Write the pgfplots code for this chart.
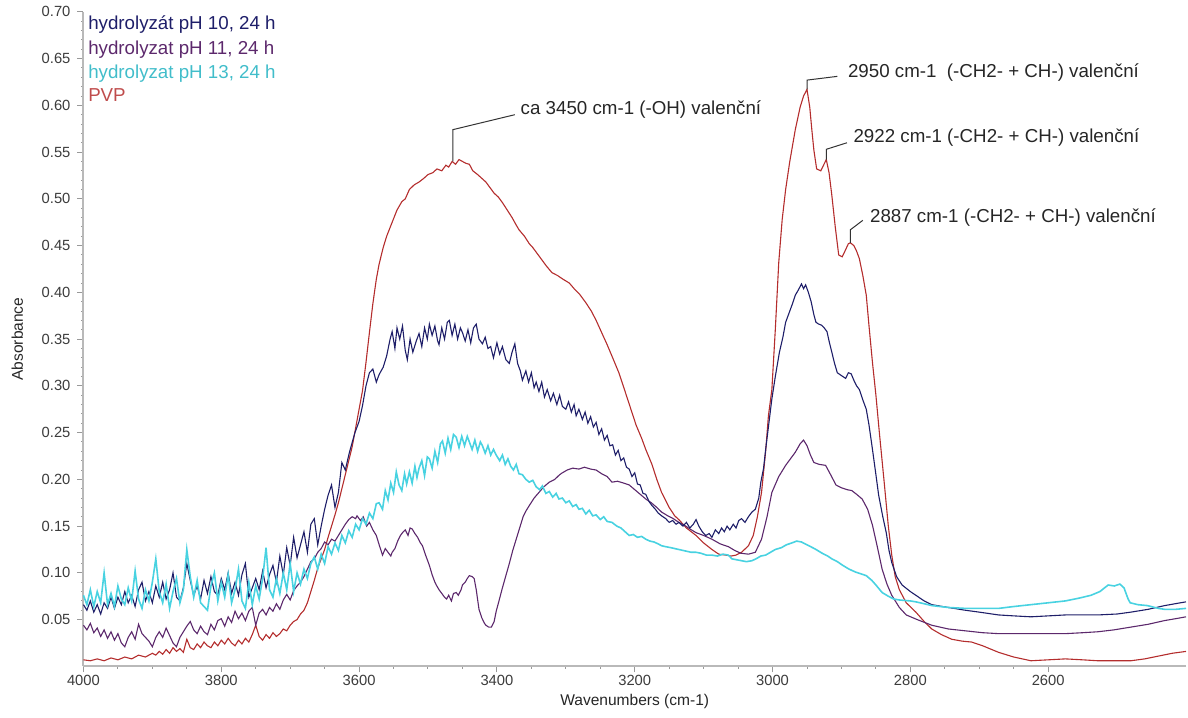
\documentclass[border=0pt]{standalone}
\usepackage{pgfplots}
\pgfplotsset{compat=1.18}
\usepackage{fontspec}
\setmainfont{Liberation Sans}

\definecolor{phten}{RGB}{30,30,105}
\definecolor{pheleven}{RGB}{92,40,108}
\definecolor{phthirteen}{RGB}{72,210,225}
\definecolor{pvp}{RGB}{180,45,45}
\definecolor{axisgray}{RGB}{185,185,185}
\definecolor{ticktext}{RGB}{60,60,60}

% hydrolyzát pH 10, 24 h
\pgfplotstableread{
x y
4000 0.066
3995 0.060
3990 0.070
3985 0.058
3980 0.066
3975 0.056
3970 0.068
3965 0.062
3960 0.074
3955 0.062
3950 0.074
3945 0.066
3940 0.080
3935 0.068
3930 0.076
3925 0.064
3920 0.082
3915 0.090
3910 0.070
3905 0.080
3900 0.068
3895 0.086
3890 0.074
3885 0.090
3880 0.072
3875 0.082
3870 0.100
3865 0.074
3860 0.070
3855 0.084
3850 0.110
3845 0.092
3840 0.076
3835 0.086
3830 0.072
3825 0.092
3820 0.078
3815 0.096
3810 0.080
3805 0.076
3800 0.094
3795 0.082
3790 0.100
3785 0.078
3780 0.090
3775 0.076
3770 0.098
3765 0.110
3760 0.074
3755 0.084
3750 0.094
3745 0.082
3740 0.102
3735 0.084
3730 0.098
3725 0.108
3720 0.090
3715 0.118
3710 0.098
3705 0.127
3700 0.108
3695 0.138
3690 0.116
3685 0.130
3680 0.144
3675 0.122
3670 0.152
3665 0.158
3660 0.130
3655 0.150
3650 0.168
3645 0.183
3640 0.194
3635 0.170
3630 0.186
3625 0.218
3620 0.210
3614 0.229
3606 0.250
3600 0.262
3595 0.279
3590 0.300
3585 0.314
3580 0.318
3575 0.304
3571 0.312
3565 0.320
3560 0.332
3555 0.350
3552 0.358
3548 0.340
3545 0.362
3541 0.350
3537 0.364
3533 0.338
3530 0.328
3526 0.350
3522 0.336
3517 0.348
3513 0.356
3509 0.342
3505 0.362
3501 0.350
3498 0.366
3494 0.354
3490 0.364
3486 0.348
3484 0.344
3480 0.362
3476 0.350
3472 0.368
3469 0.370
3465 0.354
3461 0.366
3457 0.350
3453 0.362
3450 0.357
3446 0.348
3442 0.360
3438 0.346
3434 0.362
3430 0.366
3426 0.350
3421 0.345
3417 0.352
3413 0.340
3409 0.342
3405 0.330
3400 0.346
3396 0.334
3392 0.342
3387 0.328
3382 0.324
3378 0.336
3374 0.345
3370 0.324
3366 0.316
3363 0.306
3358 0.316
3354 0.304
3350 0.314
3346 0.298
3343 0.304
3339 0.294
3335 0.304
3331 0.288
3327 0.296
3322 0.284
3318 0.292
3313 0.280
3309 0.290
3305 0.278
3300 0.275
3296 0.283
3292 0.272
3288 0.280
3285 0.268
3281 0.275
3276 0.264
3272 0.272
3268 0.260
3264 0.267
3260 0.256
3256 0.261
3252 0.248
3248 0.254
3244 0.242
3240 0.247
3236 0.236
3232 0.237
3228 0.226
3224 0.231
3220 0.220
3216 0.223
3212 0.213
3208 0.211
3204 0.203
3200 0.207
3196 0.195
3192 0.194
3188 0.185
3184 0.184
3179 0.176
3175 0.172
3170 0.168
3166 0.164
3161 0.161
3155 0.158
3150 0.154
3145 0.156
3140 0.152
3136 0.154
3130 0.150
3125 0.154
3120 0.148
3115 0.152
3111 0.157
3107 0.150
3102 0.144
3097 0.140
3092 0.142
3088 0.138
3083 0.146
3078 0.142
3074 0.148
3070 0.144
3066 0.150
3062 0.146
3057 0.152
3053 0.148
3049 0.156
3045 0.158
3040 0.154
3035 0.160
3030 0.165
3025 0.168
3020 0.180
3017 0.197
3013 0.212
3010 0.232
3005 0.262
3001 0.286
2996 0.310
2990 0.336
2985 0.352
2981 0.368
2976 0.378
2971 0.388
2967 0.397
2963 0.402
2958 0.409
2955 0.404
2952 0.408
2948 0.400
2944 0.390
2940 0.376
2937 0.368
2933 0.366
2929 0.365
2925 0.362
2921 0.358
2918 0.348
2914 0.336
2910 0.324
2906 0.314
2902 0.312
2898 0.310
2894 0.308
2890 0.314
2886 0.313
2882 0.306
2878 0.300
2874 0.296
2869 0.285
2864 0.275
2860 0.258
2855 0.232
2850 0.205
2846 0.183
2840 0.160
2835 0.143
2831 0.124
2827 0.111
2820 0.096
2812 0.087
2800 0.080
2792 0.076
2780 0.070
2769 0.066
2745 0.063
2720 0.060
2700 0.058
2672 0.055
2650 0.054
2625 0.053
2600 0.054
2575 0.055
2550 0.055
2528 0.055
2500 0.056
2480 0.058
2455 0.061
2431 0.065
2408 0.068
2400 0.069
}\phten

% hydrolyzat pH 11, 24 h
\pgfplotstableread{
x y
4000 0.044
3995 0.039
3990 0.046
3985 0.036
3980 0.041
3975 0.032
3970 0.039
3965 0.030
3960 0.037
3955 0.028
3950 0.035
3945 0.025
3940 0.021
3935 0.031
3930 0.037
3925 0.029
3920 0.045
3915 0.035
3910 0.031
3905 0.027
3900 0.021
3895 0.031
3890 0.037
3885 0.031
3880 0.041
3875 0.033
3870 0.025
3865 0.021
3860 0.031
3855 0.037
3850 0.043
3845 0.048
3840 0.039
3835 0.035
3830 0.043
3825 0.037
3820 0.034
3815 0.045
3810 0.039
3805 0.049
3800 0.051
3795 0.043
3790 0.053
3785 0.047
3780 0.059
3775 0.051
3770 0.057
3765 0.049
3760 0.059
3755 0.063
3750 0.044
3745 0.057
3740 0.061
3735 0.055
3730 0.063
3725 0.059
3720 0.067
3715 0.061
3710 0.071
3705 0.077
3700 0.071
3695 0.081
3690 0.086
3685 0.090
3680 0.096
3675 0.104
3670 0.112
3665 0.115
3660 0.122
3655 0.126
3650 0.133
3645 0.130
3640 0.136
3635 0.134
3630 0.140
3625 0.146
3620 0.152
3615 0.157
3610 0.160
3605 0.158
3603 0.161
3598 0.156
3594 0.160
3589 0.150
3585 0.154
3580 0.146
3575 0.140
3570 0.128
3566 0.119
3562 0.126
3558 0.122
3554 0.118
3552 0.122
3548 0.126
3544 0.134
3540 0.140
3537 0.143
3533 0.146
3529 0.140
3526 0.148
3523 0.147
3519 0.142
3515 0.138
3511 0.132
3508 0.129
3504 0.120
3500 0.112
3498 0.108
3494 0.098
3490 0.090
3488 0.087
3484 0.082
3480 0.078
3476 0.074
3473 0.072
3470 0.076
3466 0.070
3463 0.078
3459 0.079
3456 0.076
3452 0.082
3450 0.087
3446 0.090
3443 0.094
3440 0.097
3436 0.096
3433 0.094
3430 0.082
3426 0.061
3422 0.052
3418 0.046
3416 0.044
3412 0.042
3408 0.042
3404 0.048
3401 0.059
3397 0.070
3392 0.084
3387 0.097
3382 0.110
3377 0.124
3372 0.136
3367 0.148
3362 0.160
3358 0.166
3353 0.172
3346 0.180
3339 0.186
3332 0.192
3324 0.197
3316 0.200
3309 0.205
3305 0.207
3298 0.210
3290 0.212
3281 0.211
3273 0.213
3264 0.211
3256 0.210
3248 0.206
3240 0.203
3233 0.197
3225 0.198
3216 0.196
3208 0.194
3200 0.189
3192 0.184
3184 0.179
3176 0.175
3168 0.170
3161 0.165
3152 0.161
3144 0.158
3136 0.154
3128 0.151
3120 0.147
3111 0.143
3100 0.140
3088 0.136
3076 0.131
3064 0.128
3055 0.124
3046 0.121
3035 0.120
3025 0.122
3016 0.136
3008 0.160
3001 0.186
2991 0.203
2981 0.215
2974 0.222
2967 0.229
2960 0.238
2955 0.242
2950 0.236
2945 0.226
2940 0.218
2932 0.216
2923 0.215
2915 0.204
2908 0.194
2900 0.191
2892 0.189
2885 0.188
2878 0.184
2870 0.179
2862 0.168
2855 0.151
2848 0.128
2841 0.104
2834 0.088
2827 0.076
2816 0.063
2806 0.055
2790 0.050
2769 0.044
2745 0.040
2720 0.038
2695 0.036
2672 0.035
2650 0.035
2625 0.035
2600 0.035
2575 0.035
2550 0.036
2528 0.037
2505 0.039
2480 0.042
2455 0.045
2431 0.049
2415 0.051
2400 0.053
}\pheleven

% hydrolyzat pH 13, 24 h
\pgfplotstableread{
x y
4000 0.076
3995 0.066
3990 0.082
3985 0.064
3980 0.080
3975 0.068
3970 0.100
3965 0.066
3960 0.078
3955 0.064
3950 0.086
3945 0.072
3940 0.066
3935 0.084
3930 0.070
3925 0.102
3920 0.072
3915 0.062
3910 0.082
3905 0.070
3900 0.090
3895 0.115
3890 0.080
3885 0.068
3880 0.088
3875 0.062
3870 0.080
3865 0.094
3860 0.068
3855 0.082
3850 0.125
3845 0.096
3840 0.074
3835 0.092
3830 0.068
3825 0.064
3820 0.060
3815 0.086
3810 0.100
3805 0.070
3800 0.090
3795 0.074
3790 0.098
3785 0.068
3780 0.082
3775 0.104
3770 0.070
3765 0.062
3760 0.090
3755 0.066
3750 0.086
3745 0.072
3740 0.094
3735 0.127
3730 0.082
3725 0.074
3720 0.094
3715 0.078
3710 0.100
3705 0.082
3700 0.110
3695 0.080
3690 0.100
3685 0.088
3680 0.104
3675 0.094
3670 0.110
3665 0.117
3660 0.104
3655 0.120
3650 0.110
3645 0.128
3640 0.120
3635 0.132
3630 0.124
3625 0.140
3620 0.132
3615 0.145
3610 0.138
3605 0.152
3600 0.146
3595 0.158
3590 0.152
3585 0.164
3580 0.158
3575 0.174
3571 0.175
3566 0.168
3562 0.188
3558 0.178
3554 0.196
3550 0.186
3546 0.208
3542 0.194
3538 0.188
3534 0.206
3531 0.195
3527 0.208
3523 0.196
3519 0.214
3516 0.202
3513 0.212
3509 0.220
3505 0.204
3501 0.224
3498 0.222
3494 0.212
3490 0.230
3486 0.218
3482 0.238
3479 0.241
3475 0.228
3471 0.244
3467 0.232
3463 0.248
3459 0.245
3455 0.234
3451 0.246
3447 0.236
3443 0.246
3440 0.240
3436 0.232
3432 0.242
3428 0.230
3424 0.240
3421 0.236
3417 0.228
3413 0.236
3409 0.226
3405 0.232
3401 0.226
3396 0.220
3392 0.226
3388 0.216
3384 0.222
3380 0.214
3376 0.210
3372 0.216
3368 0.206
3363 0.205
3358 0.200
3353 0.197
3348 0.199
3343 0.192
3338 0.189
3334 0.193
3329 0.185
3324 0.187
3319 0.181
3314 0.185
3310 0.179
3305 0.180
3300 0.175
3295 0.177
3290 0.171
3285 0.173
3281 0.168
3276 0.169
3271 0.163
3266 0.167
3261 0.161
3256 0.162
3250 0.157
3245 0.160
3240 0.155
3233 0.154
3226 0.150
3220 0.148
3214 0.144
3208 0.140
3202 0.141
3196 0.138
3190 0.139
3184 0.136
3178 0.134
3172 0.133
3166 0.131
3161 0.129
3155 0.128
3148 0.127
3142 0.126
3136 0.125
3130 0.124
3124 0.123
3118 0.122
3111 0.122
3104 0.121
3096 0.119
3088 0.119
3080 0.118
3072 0.120
3064 0.119
3059 0.115
3052 0.114
3045 0.113
3038 0.112
3030 0.113
3024 0.115
3017 0.118
3010 0.119
3003 0.122
2996 0.125
2987 0.127
2980 0.130
2972 0.132
2965 0.134
2958 0.133
2950 0.130
2942 0.127
2937 0.125
2928 0.121
2920 0.118
2914 0.115
2906 0.112
2898 0.108
2889 0.104
2880 0.101
2872 0.099
2864 0.097
2856 0.092
2850 0.087
2841 0.079
2832 0.075
2824 0.072
2816 0.071
2800 0.070
2792 0.069
2780 0.067
2769 0.065
2745 0.063
2720 0.062
2695 0.062
2672 0.062
2650 0.064
2625 0.066
2600 0.068
2575 0.070
2555 0.073
2538 0.076
2525 0.080
2513 0.087
2504 0.086
2496 0.088
2490 0.084
2484 0.072
2481 0.068
2470 0.066
2456 0.065
2440 0.062
2431 0.061
2415 0.061
2400 0.062
}\phthirteen

% PVP
\pgfplotstableread{
x y
4000 0.007
3990 0.006
3980 0.008
3970 0.006
3960 0.009
3950 0.007
3940 0.010
3930 0.008
3920 0.012
3910 0.010
3900 0.014
3895 0.012
3890 0.016
3885 0.013
3880 0.018
3875 0.014
3870 0.020
3865 0.016
3860 0.019
3855 0.015
3850 0.029
3845 0.020
3840 0.018
3835 0.024
3830 0.020
3825 0.026
3820 0.022
3815 0.020
3810 0.026
3805 0.022
3800 0.028
3795 0.024
3790 0.030
3785 0.025
3780 0.022
3775 0.028
3770 0.024
3765 0.030
3760 0.026
3755 0.034
3750 0.044
3745 0.032
3740 0.028
3735 0.034
3730 0.030
3725 0.036
3720 0.032
3715 0.035
3710 0.040
3705 0.038
3700 0.044
3695 0.048
3690 0.050
3685 0.056
3680 0.060
3675 0.068
3670 0.080
3665 0.092
3660 0.105
3655 0.115
3650 0.125
3645 0.138
3640 0.150
3635 0.162
3630 0.175
3625 0.190
3620 0.205
3615 0.220
3610 0.235
3605 0.255
3600 0.275
3595 0.295
3590 0.325
3585 0.357
3580 0.388
3575 0.414
3571 0.430
3565 0.448
3560 0.460
3552 0.475
3545 0.488
3538 0.497
3533 0.500
3527 0.510
3520 0.515
3513 0.518
3506 0.522
3500 0.526
3493 0.528
3487 0.532
3480 0.530
3474 0.536
3470 0.534
3465 0.540
3460 0.537
3455 0.542
3450 0.540
3445 0.538
3440 0.537
3435 0.530
3428 0.526
3422 0.522
3416 0.518
3410 0.512
3404 0.506
3398 0.502
3392 0.496
3385 0.488
3378 0.480
3372 0.472
3368 0.467
3360 0.460
3353 0.452
3348 0.448
3343 0.443
3336 0.436
3328 0.428
3320 0.421
3312 0.418
3304 0.414
3295 0.410
3288 0.404
3280 0.398
3271 0.389
3263 0.380
3256 0.370
3248 0.357
3240 0.344
3232 0.330
3223 0.314
3214 0.294
3206 0.276
3198 0.258
3190 0.244
3184 0.232
3175 0.216
3168 0.200
3161 0.186
3150 0.170
3142 0.161
3136 0.157
3125 0.148
3111 0.140
3100 0.132
3088 0.125
3078 0.120
3068 0.119
3060 0.118
3053 0.119
3045 0.122
3035 0.129
3028 0.140
3022 0.160
3016 0.186
3010 0.230
3006 0.268
3001 0.296
2996 0.360
2991 0.432
2986 0.478
2981 0.510
2975 0.540
2967 0.574
2960 0.598
2955 0.610
2950 0.617
2946 0.598
2943 0.574
2940 0.552
2936 0.532
2930 0.530
2926 0.536
2922 0.542
2918 0.528
2914 0.504
2909 0.470
2904 0.440
2899 0.438
2895 0.444
2890 0.452
2887 0.453
2882 0.450
2878 0.444
2874 0.436
2869 0.418
2864 0.397
2860 0.364
2855 0.325
2850 0.290
2845 0.250
2838 0.197
2832 0.150
2827 0.119
2822 0.096
2816 0.082
2806 0.068
2792 0.058
2780 0.048
2769 0.040
2755 0.034
2740 0.029
2725 0.027
2711 0.026
2695 0.022
2672 0.015
2650 0.010
2625 0.006
2600 0.007
2575 0.008
2550 0.007
2528 0.006
2505 0.006
2480 0.006
2460 0.008
2440 0.011
2420 0.014
2400 0.016
}\pvp

\begin{document}
\begin{tikzpicture}
\begin{axis}[
  scale only axis,
  width=551.25bp, height=327.25bp,
  x dir=reverse,
  xmin=2400, xmax=4000,
  ymin=0, ymax=0.70,
  clip=false,
  axis x line*=bottom,
  axis y line*=left,
  axis line style={draw=axisgray, line width=1bp},
  every tick/.style={draw=gray!80, line width=0.5bp},
  tick align=outside,
  major tick length=3bp,
  minor tick length=1.2bp,
  xtick={2600,2800,3000,3200,3400,3600,3800,4000},
  minor x tick num=3,
  ytick={0.05,0.10,0.15,0.20,0.25,0.30,0.35,0.40,0.45,0.50,0.55,0.60,0.65,0.70},
  minor y tick num=4,
  xticklabel style={font=\fontsize{7.4}{8}\selectfont, text=ticktext,
    /pgf/number format/1000 sep={}, yshift=2bp},
  yticklabel style={font=\fontsize{7.4}{8}\selectfont, text=ticktext,
    /pgf/number format/fixed, /pgf/number format/fixed zerofill,
    /pgf/number format/precision=2},
  /pgf/number format/assume math mode=true,
  xlabel={Wavenumbers (cm-1)},
  ylabel={Absorbance},
  label style={font=\fontsize{7.8}{9}\selectfont, text=black!85},
  xlabel style={yshift=2.5bp},
  ylabel style={yshift=2.5bp},
]
% page frame
\path (rel axis cs:-0.0757,-0.0779) rectangle (rel axis cs:1.0018,1.0145);

\addplot[pvp, line width=0.55bp] table[x=x, y=y] {\pvp};
\addplot[pheleven, line width=0.55bp] table[x=x, y=y] {\pheleven};
\addplot[phten, line width=0.55bp] table[x=x, y=y] {\phten};
\addplot[phthirteen, line width=0.8bp] table[x=x, y=y] {\phthirteen};

% series names, top left
\begin{scope}[every node/.style={anchor=base west, inner sep=0pt,
    font=\fontsize{9.4}{11}\selectfont}]
\node[text=phten]      at (rel axis cs:0.004,0.9733) {hydrolyzát pH 10, 24 h};
\node[text=pheleven]   at (rel axis cs:0.004,0.9355) {hydrolyzat pH 11, 24 h};
\node[text=phthirteen!90!black] at (rel axis cs:0.004,0.8985) {hydrolyzat pH 13, 24 h};
\node[text=pvp!85]     at (rel axis cs:0.004,0.8630) {PVP};
\end{scope}

% band assignments
\begin{scope}[every node/.style={anchor=base west, inner sep=0pt,
    font=\fontsize{9.4}{11}\selectfont, text=black!85}]
\draw[black!80, line width=0.5bp] (axis cs:3464,0.540) -- (axis cs:3464,0.574) -- (axis cs:3374,0.590);
\node at (axis cs:3366,0.590) {ca 3450 cm-1 (-OH) valenční};
\draw[black!80, line width=0.5bp] (axis cs:2950,0.617) -- (axis cs:2950,0.627) -- (axis cs:2906,0.631);
\node at (axis cs:2891,0.630) {2950 cm-1\ \ (-CH2- + CH-) valenční};
\draw[black!80, line width=0.5bp] (axis cs:2922,0.542) -- (axis cs:2922,0.553) -- (axis cs:2892,0.560);
\node at (axis cs:2883,0.560) {2922 cm-1 (-CH2- + CH-) valenční};
\draw[black!80, line width=0.5bp] (axis cs:2887,0.453) -- (axis cs:2887,0.467) -- (axis cs:2869,0.477);
\node at (axis cs:2859,0.475) {2887 cm-1 (-CH2- + CH-) valenční};
\end{scope}
\end{axis}
\end{tikzpicture}
\end{document}
